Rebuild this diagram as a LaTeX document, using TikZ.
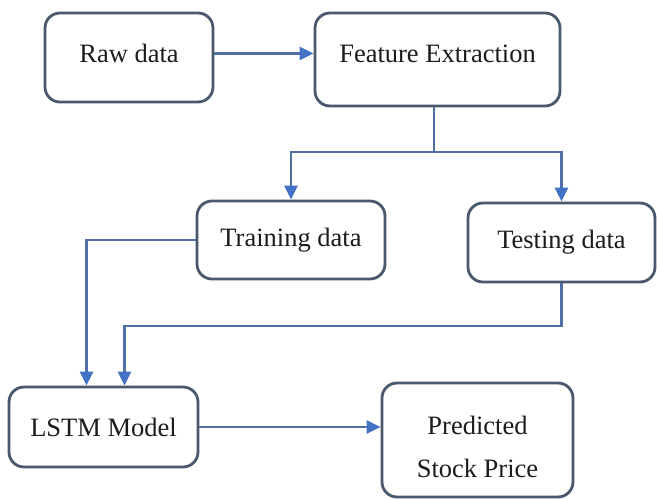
\documentclass[tikz,border=0pt]{standalone}
\usepackage{fontspec}
\setmainfont{Liberation Serif}
\usetikzlibrary{arrows.meta}
\definecolor{boxline}{HTML}{4A586E}
\definecolor{linkline}{HTML}{5070A4}
\definecolor{tipblue}{HTML}{4472C4}
\definecolor{ink}{HTML}{1C1C1C}
\begin{document}
\begin{tikzpicture}[x=1pt,y=-1pt,
  stagebox/.style={draw=boxline, line width=2.8pt, rounded corners=15pt,
    fill=white, text=ink, align=center,
    font=\fontsize{26.5}{43}\selectfont},
  link/.style={draw=linkline, line width=2.7pt,
    -{Triangle[length=14pt,width=13pt,color=tipblue]}},
  plainlink/.style={draw=linkline, line width=2.7pt}]
\useasboundingbox[fill=white] (0,0) rectangle (657,499);

% pipeline stages
\node[stagebox, minimum width=168pt, minimum height=89pt,
      text height=18pt, text depth=9pt] (raw) at (129,57.5) {Raw data};
\node[stagebox, minimum width=245pt, minimum height=93pt,
      text height=18pt, text depth=12pt] (feat) at (437.5,59.5) {Feature Extraction};
\node[stagebox, minimum width=188pt, minimum height=78pt] (train) at (291,240) {Training data};
\node[stagebox, minimum width=187pt, minimum height=79pt] (test) at (561.5,242.5) {Testing data};
\node[stagebox, minimum width=189pt, minimum height=80pt] (lstm) at (103.5,427) {LSTM Model};
\node[stagebox, minimum width=191pt, minimum height=114pt,
      text height=75pt] (pred) at (477.5,440) {Predicted\\Stock Price};

% junction levels
\coordinate (split) at (434,152);
\coordinate (merge) at (0,326);

% connectors
\draw[link] ([yshift=4pt]raw.east) -- ([yshift=4pt]raw.east -| feat.west);
\draw[plainlink] (feat.south -| split) -- (split);
\draw[link] (split) -| (train.north);
\draw[link] (split) -| (test.north);
\draw[link] (train.west) -| ([xshift=-17pt]lstm.north);
\draw[link] (test.south) -- (test.south |- merge) -| ([xshift=21pt]lstm.north);
\draw[link] (lstm.east) -- (lstm.east -| pred.west);
\end{tikzpicture}
\end{document}
